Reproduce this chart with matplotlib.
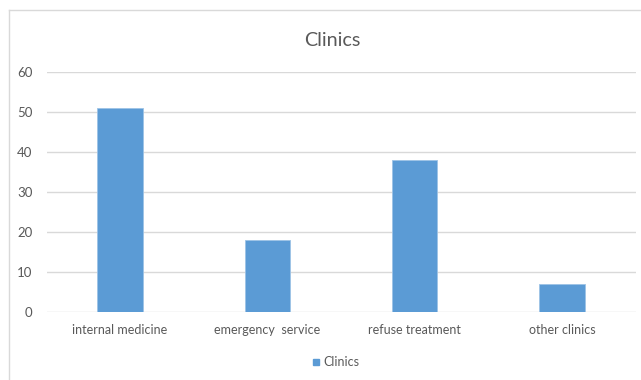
import matplotlib
matplotlib.use("Agg")
import matplotlib.pyplot as plt
from matplotlib.patches import Rectangle
from matplotlib.lines import Line2D

categories = ["internal medicine", "emergency  service", "refuse treatment", "other clinics"]
values = [51, 18, 38, 7]
series_name = "Clinics"
y_ticks = [0, 10, 20, 30, 40, 50, 60]

W, H = 641, 380
plt.rcParams["font.family"] = ["Lato", "DejaVu Sans"]
text_color = "#595959"
bar_color = "#5B9BD5"
grid_color = "#D9D9D9"

fig = plt.figure(figsize=(W / 100, H / 100), dpi=100)
fig.patch.set_facecolor("white")

# chart frame (left and top edges visible)
fig.add_artist(Line2D([9 / W, 9 / W], [0, 1 - 10 / H], color=grid_color, lw=1, transform=fig.transFigure))
fig.add_artist(Line2D([9 / W, 1], [1 - 10 / H, 1 - 10 / H], color=grid_color, lw=1, transform=fig.transFigure))

# plot area in pixel coordinates
left, right = 46.5, 635.5
top, bottom = 72, 312
ax = fig.add_axes([left / W, 1 - bottom / H, (right - left) / W, (bottom - top) / H])
ax.set_facecolor("none")

x = range(len(categories))
ax.bar(x, values, width=0.31, color=bar_color, edgecolor="#9DC3E6", linewidth=0.6, zorder=3)

ax.set_xlim(-0.5, len(categories) - 0.5)
ax.set_ylim(0, 60)
ax.set_yticks(y_ticks)
ax.set_yticklabels([str(v) for v in y_ticks])
ax.set_xticks(list(x))
ax.set_xticklabels(categories)
ax.grid(axis="y", color=grid_color, linewidth=1, zorder=0)
ax.tick_params(axis="y", length=0, labelsize=9.5, colors=text_color, pad=10)
ax.tick_params(axis="x", length=0, labelsize=9, colors=text_color, pad=9)
for s in ax.spines.values():
    s.set_visible(False)

fig.text(332 / W, 1 - 40 / H, "Clinics", ha="center", va="center", fontsize=14.2, color=text_color)

# legend
fig.add_artist(Rectangle((313 / W, 1 - 365 / H), 6 / W, 6 / H, color=bar_color, transform=fig.transFigure))
fig.text(323.5 / W, 1 - 362 / H, series_name, ha="left", va="center", fontsize=9, color=text_color)

fig.savefig("out.png", dpi=100, facecolor="white")
